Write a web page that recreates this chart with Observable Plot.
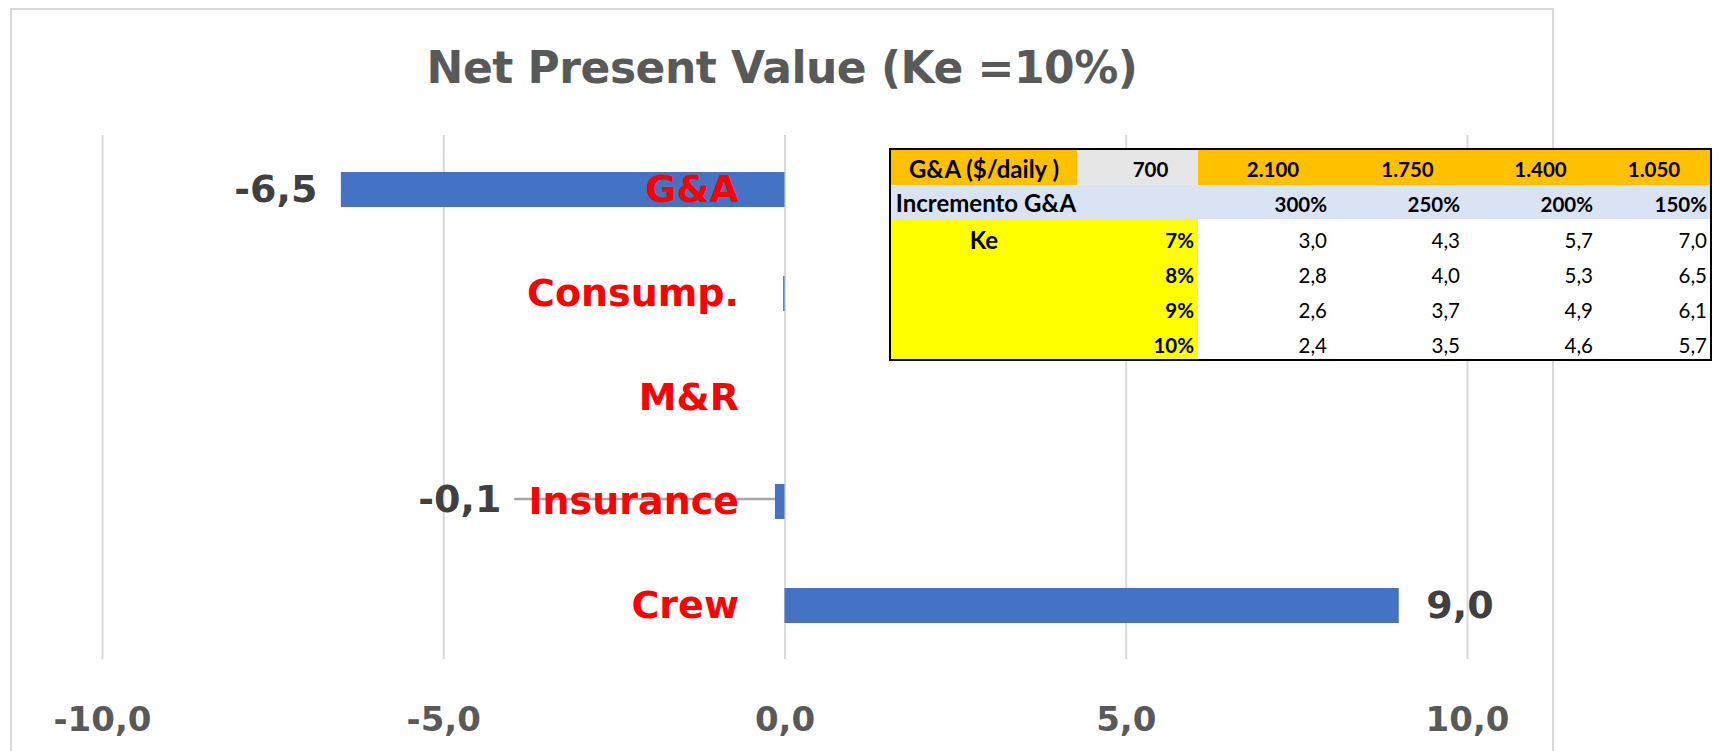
<!DOCTYPE html>
<html>
<head>
<meta charset="utf-8">
<script src="https://cdn.jsdelivr.net/npm/d3@7"></script>
<script src="https://cdn.jsdelivr.net/npm/@observablehq/plot@0.6"></script>
<style>
html, body { margin: 0; padding: 0; background: #fff; }
#wrap { position: relative; width: 1722px; height: 751px; overflow: hidden; background: #fff; }
#chart { position: absolute; left: 0; top: 0; z-index: 0; }
#frame { position: absolute; left: 10px; top: 8px; width: 1544px; height: 800px; border: 2px solid #d9d9d9; box-sizing: border-box; z-index: 1; pointer-events: none; }
#title { position: absolute; left: 10px; width: 1544px; top: 46px; text-align: center; font-family: "DejaVu Sans", Verdana, sans-serif; font-weight: bold; font-size: 44px; line-height: 44px; letter-spacing: -0.5px; color: #595959; z-index: 2; white-space: nowrap; }
#tbl { position: absolute; left: 889px; top: 148px; border: 2px solid #000; display: grid;
  grid-template-columns: 186px 121px 132px 133px 133px 114px;
  grid-template-rows: 35px 34px 35px 35px 35px 35px;
  font-family: Lato, "Open Sans", sans-serif; color: #000; z-index: 3; background: #fff; }
#tbl .c { white-space: nowrap; overflow: visible; position: relative; box-sizing: border-box; }
#tbl .c span { position: absolute; }
#chart svg text { font-weight: bold; }
</style>
</head>
<body>
<div id="wrap">
  <div id="chart"></div>
  <div id="frame"></div>
  <div id="title"></div>
  <div id="tbl"></div>
</div>
<script>
// ---- chart data ----
const chartTitle = "Net Present Value (Ke =10%)";
const categories = ["G&A", "Consump.", "M&R", "Insurance", "Crew"];
const npv = [-6.5, -0.02, 0, -0.14, 9.0];
const valueLabels = ["-6,5", "", "", "-0,1", "9,0"];
const xTicks = [-10, -5, 0, 5, 10];

// ---- table data ----
const gaHeader = "G&A ($/daily )";
const gaDaily = ["700", "2.100", "1.750", "1.400", "1.050"];
const incHeader = "Incremento G&A";
const incremento = ["300%", "250%", "200%", "150%"];
const keHeader = "Ke";
const keRates = ["7%", "8%", "9%", "10%"];
const npvGrid = [
  ["3,0", "4,3", "5,7", "7,0"],
  ["2,8", "4,0", "5,3", "6,5"],
  ["2,6", "3,7", "4,9", "6,1"],
  ["2,4", "3,5", "4,6", "5,7"]
];

document.getElementById("title").textContent = chartTitle;

const data = categories.map((c, i) => ({cat: c, v: npv[i], label: valueLabels[i]}));
const fmt = d => d.toFixed(1).replace(".", ",");

// Excel label for Insurance was dragged left, with a leader line back to the bar
const insuranceLabelX = -4.156;
const leaderStartX = -3.96;
const insurance = data.filter(d => d.cat === "Insurance");

const plot = Plot.plot({
  width: 1722,
  height: 751,
  marginLeft: 102,
  marginRight: 255,
  marginTop: 135,
  marginBottom: 92,
  style: {fontFamily: "'DejaVu Sans', Verdana, sans-serif", background: "transparent", overflow: "visible"},
  x: {domain: [-10, 10], axis: null, label: null},
  y: {domain: categories, paddingInner: 0.665, paddingOuter: 0.3325, axis: null, label: null},
  marks: [
    Plot.gridX(xTicks, {stroke: "#d9d9d9", strokeOpacity: 1, strokeWidth: 2}),
    Plot.barX(data, {x: "v", y: "cat", fill: "#4472c4"}),
    Plot.axisX({ticks: xTicks, label: null, tickSize: 0, tickPadding: 47, tickFormat: fmt,
      fontSize: 34, fontWeight: "bold", fill: "#595959"}),
    Plot.ruleY(insurance, {y: "cat", x1: leaderStartX, x2: "v", stroke: "#a6a6a6", strokeWidth: 2.5, dy: -3}),
    Plot.text(data, {x: 0, y: "cat", text: "cat", dx: -46, textAnchor: "end",
      fill: "#ff0000", fontSize: 38, fontWeight: "bold"}),
    Plot.text(data.filter(d => d.label && d.v > 0), {x: "v", y: "cat", text: "label", dx: 27,
      textAnchor: "start", fill: "#404040", fontSize: 38, fontWeight: "bold"}),
    Plot.text(data.filter(d => d.label && d.v < 0 && d.cat !== "Insurance"), {x: "v", y: "cat", text: "label", dx: -24,
      textAnchor: "end", fill: "#404040", fontSize: 38, fontWeight: "bold"}),
    Plot.text(insurance, {x: insuranceLabelX, y: "cat", text: "label", dy: -2,
      textAnchor: "end", fill: "#404040", fontSize: 38, fontWeight: "bold"})
  ]
});
document.getElementById("chart").appendChild(plot);

// ---- table ----
const ORANGE = "#ffc000", GREY = "#e7e6e6", BLUE = "#dae3f3", YELLOW = "#ffff00", WHITE = "#ffffff";
const tbl = document.getElementById("tbl");
const rowH = [35, 34, 35, 35, 35, 35];
const TEXT_SIZE = 24, NUM_SIZE = 20.5;
function cell(text, opts) {
  const d = document.createElement("div");
  d.className = "c";
  d.style.background = opts.bg;
  if (text) {
    const s = document.createElement("span");
    s.textContent = text;
    s.style.fontWeight = opts.bold ? "bold" : "normal";
    s.style.fontSize = (opts.size || NUM_SIZE) + "px";
    s.style.lineHeight = opts.h + "px";
    s.style.top = (opts.dy || 0) + "px";
    if (opts.align === "right") { s.style.right = (opts.pad || 3) + "px"; }
    else if (opts.align === "center") { s.style.left = "50%"; s.style.transform = `translateX(calc(-50% + ${opts.shift || 0}px))`; }
    else { s.style.left = (opts.pad || 3) + "px"; }
    d.appendChild(s);
  }
  tbl.appendChild(d);
}
// row 1
cell(gaHeader, {bg: ORANGE, bold: true, align: "center", size: TEXT_SIZE, h: rowH[0], dy: 1});
cell(gaDaily[0], {bg: GREY, bold: true, align: "center", shift: 13, h: rowH[0], dy: 2});
const hdrShift = [9, 11, 11, 1];
gaDaily.slice(1).forEach((t, i) => cell(t, {bg: ORANGE, bold: true, align: "center", shift: hdrShift[i], h: rowH[0], dy: 2}));
// row 2
cell(incHeader, {bg: BLUE, bold: true, align: "center", shift: 2, size: TEXT_SIZE, h: rowH[1], dy: 1});
cell("", {bg: BLUE});
incremento.forEach(t => cell(t, {bg: BLUE, bold: true, align: "right", pad: 3, h: rowH[1], dy: 2}));
// rows 3-6
keRates.forEach((k, r) => {
  cell(r === 0 ? keHeader : "", {bg: YELLOW, bold: true, align: "center", size: TEXT_SIZE, h: rowH[2 + r], dy: 3});
  cell(k, {bg: YELLOW, bold: true, align: "right", pad: 4, h: rowH[2 + r], dy: 4});
  npvGrid[r].forEach(v => cell(v, {bg: WHITE, bold: false, align: "right", pad: 3, h: rowH[2 + r], dy: 4}));
});
</script>
</body>
</html>
